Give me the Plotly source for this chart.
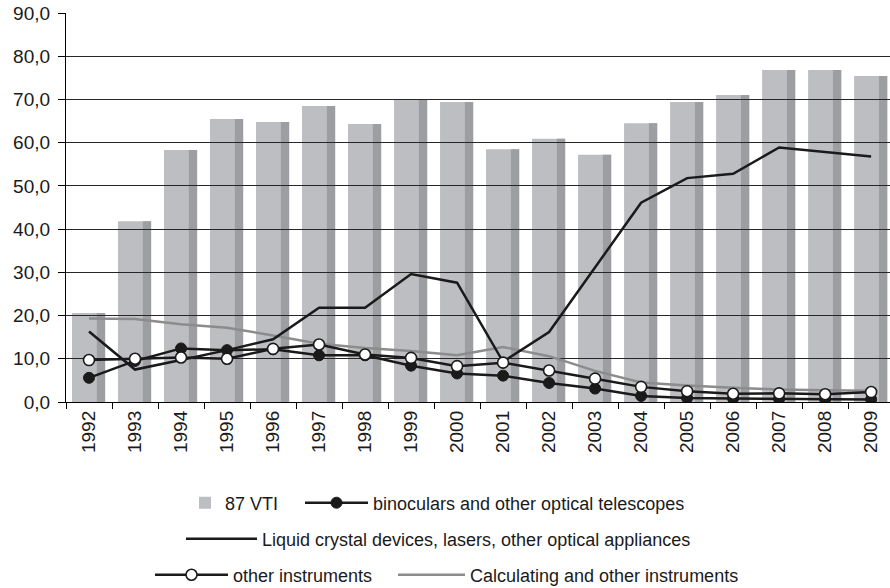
import plotly.graph_objects as go

years = [str(y) for y in range(1992, 2010)]
vti = [20.6, 41.8, 58.3, 65.5, 64.8, 68.5, 64.3, 69.9, 69.4, 58.5, 60.9, 57.2, 64.5, 69.4, 71.0, 76.8, 76.8, 75.4]
binoculars = [5.6, 9.5, 12.4, 12.0, 12.2, 10.8, 10.8, 8.4, 6.6, 6.1, 4.4, 3.1, 1.4, 0.9, 0.8, 0.7, 0.6, 0.6]
liquid = [16.3, 7.5, 9.7, 12.0, 14.5, 21.8, 21.8, 29.6, 27.6, 9.3, 16.2, 31.2, 46.1, 51.8, 52.8, 58.9, 57.8, 56.8]
other = [9.7, 10.0, 10.3, 10.0, 12.3, 13.3, 11.0, 10.2, 8.3, 9.1, 7.3, 5.4, 3.5, 2.5, 1.9, 2.0, 1.8, 2.3]
calculating = [19.3, 19.2, 18.0, 17.2, 15.4, 13.5, 12.5, 11.8, 10.8, 12.7, 10.6, 7.2, 4.5, 3.8, 3.3, 2.9, 2.7, 2.6]
y_ticks = [0, 10, 20, 30, 40, 50, 60, 70, 80, 90]

names = {
    "vti": "87 VTI",
    "bin": "binoculars and other optical telescopes",
    "liq": "Liquid crystal devices, lasers, other optical appliances",
    "oth": "other instruments",
    "calc": "Calculating and other instruments",
}

W, H = 890, 588
ML, MR, MT, MB = 66, 0, 13, 186
PW = W - ML - MR
PH = H - MT - MB
FONT = "Liberation Sans, Arial, sans-serif"
INK = "#1a1a1a"

def px_x(p):
    return (p - ML) / PW

def px_y(p):
    return (H - MB - p) / PH

fig = go.Figure()

# bars (light face + darker right side)
fig.add_trace(go.Bar(x=years, y=vti, name=names["vti"], marker=dict(color="#bdbec2", line=dict(width=0)),
                     width=0.72, offset=-0.37, legend="legend", xaxis="x", yaxis="y"))
fig.add_trace(go.Bar(x=years, y=vti, showlegend=False, marker=dict(color="#9d9ea2", line=dict(width=0)),
                     width=0.18, offset=0.17, xaxis="x", yaxis="y"))

# lines on an upper subplot so that gridlines sit between bars and lines
fig.add_trace(go.Scatter(x=years, y=calculating, name=names["calc"], mode="lines",
                         line=dict(color="#8c8c8c", width=2.5), legend="legend5",
                         xaxis="x2", yaxis="y2"))
fig.add_trace(go.Scatter(x=years, y=liquid, name=names["liq"], mode="lines",
                         line=dict(color=INK, width=2.5), legend="legend3",
                         xaxis="x2", yaxis="y2"))
fig.add_trace(go.Scatter(x=years, y=binoculars, name=names["bin"], mode="lines+markers",
                         line=dict(color=INK, width=2.5),
                         marker=dict(symbol="circle", size=11, color=INK, line=dict(color=INK, width=1)),
                         legend="legend2", xaxis="x2", yaxis="y2"))
fig.add_trace(go.Scatter(x=years, y=other, name=names["oth"], mode="lines+markers",
                         line=dict(color=INK, width=2.5),
                         marker=dict(symbol="circle", size=11, color="white", line=dict(color=INK, width=1.6)),
                         legend="legend4", xaxis="x2", yaxis="y2"))

xr = [-0.5, 17.41]
yr = [0, 90]

def leg(xpx, ypx, iw):
    return dict(orientation="h", x=px_x(xpx), xanchor="left", y=px_y(ypx), yanchor="middle",
                font=dict(family=FONT, size=18, color=INK), itemwidth=iw,
                bgcolor="rgba(0,0,0,0)", borderwidth=0)

fig.update_layout(
    width=W, height=H,
    margin=dict(l=ML, r=MR, t=MT, b=MB, pad=0, autoexpand=False),
    paper_bgcolor="white", plot_bgcolor="rgba(0,0,0,0)",
    font=dict(family=FONT, size=19, color=INK),
    separators=", ",
    barmode="overlay",
    hovermode=False,
    xaxis=dict(type="category", categoryorder="array", categoryarray=years, range=xr,
               domain=[0, 1], anchor="y", automargin=False,
               showgrid=False, zeroline=False, showline=True, linecolor="#000000", linewidth=1.3,
               ticks="outside", ticklen=6, tickwidth=1.3, tickcolor="#000000", tickson="boundaries",
               tickangle=-90, tickfont=dict(family=FONT, size=19, color=INK)),
    yaxis=dict(range=yr, domain=[0, 1], anchor="x", tickmode="array", tickvals=y_ticks,
               tickformat=".1f", showgrid=False, zeroline=False, automargin=False,
               showline=True, linecolor="#000000", linewidth=1.3,
               ticks="outside", ticklen=7, tickwidth=1.3, tickcolor="#000000",
               ticklabelstandoff=4,
               tickfont=dict(family=FONT, size=19, color=INK)),
    xaxis2=dict(type="category", categoryorder="array", categoryarray=years, range=xr,
                domain=[0, 1], anchor="y2", visible=False, automargin=False),
    yaxis2=dict(range=yr, domain=[0, 1], anchor="x2", tickmode="array", tickvals=y_ticks,
                showgrid=True, gridcolor="#262626", gridwidth=1.2, zeroline=False, automargin=False,
                showline=False, showticklabels=False, ticks=""),
    legend=leg(185, 503, 30),
    legend2=leg(300, 503, 63),
    legend3=leg(181, 539, 71),
    legend4=leg(150, 575, 73),
    legend5=leg(393, 575, 67),
    showlegend=True,
)

fig.write_html("out.html", config={"displayModeBar": False},
               post_script="document.body.style.margin='0';")
